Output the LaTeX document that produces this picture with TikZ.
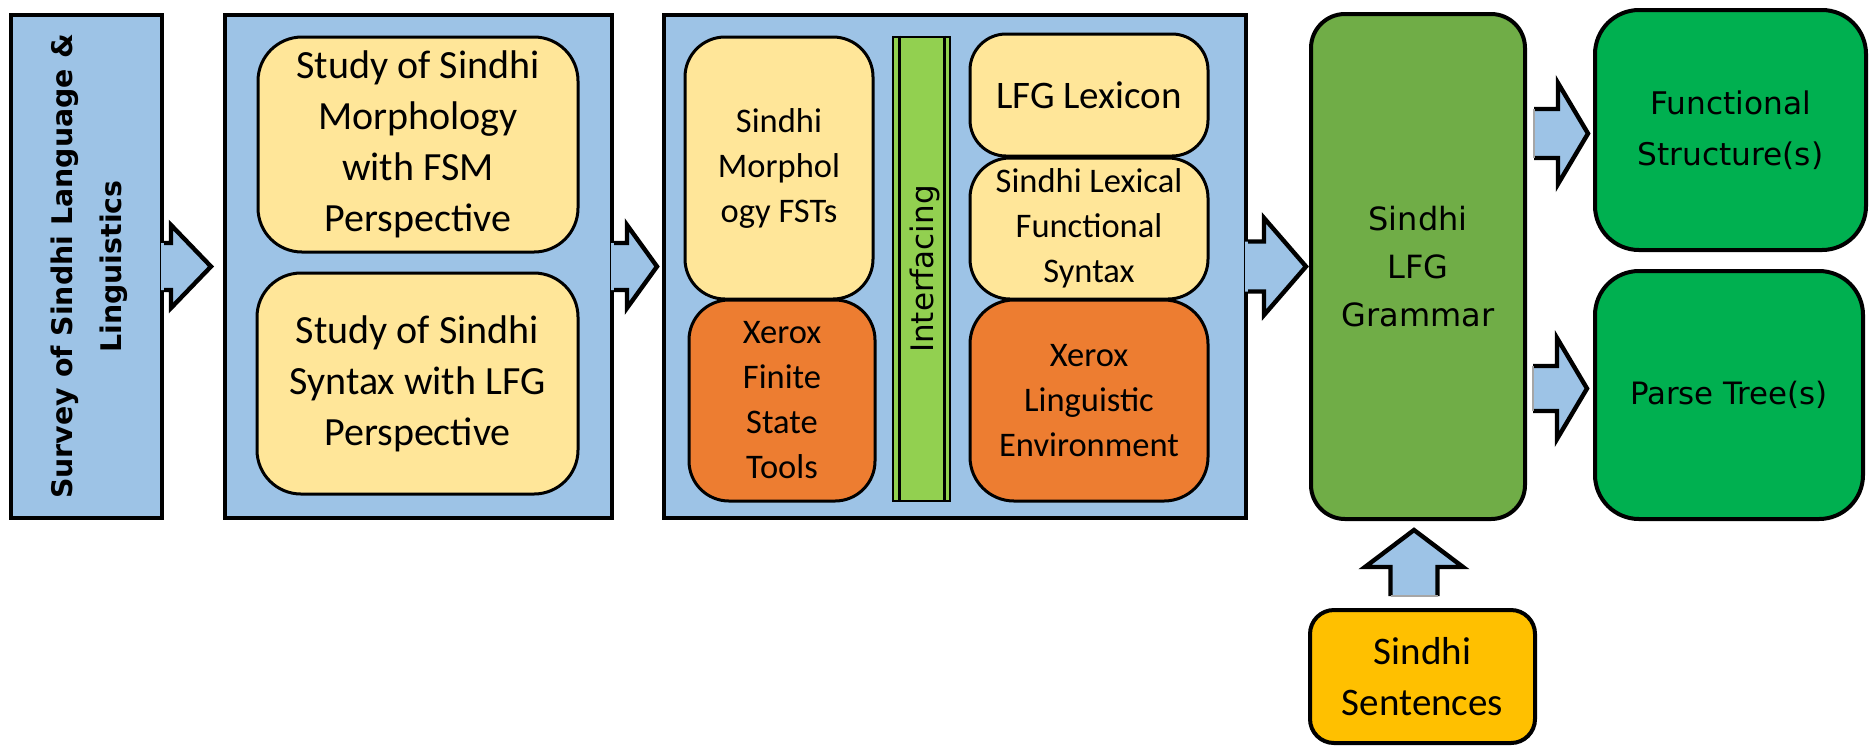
\documentclass[tikz,border=0pt]{standalone}
\usepackage{fontspec}
\setmainfont{Carlito}
\newfontfamily\verd{DejaVu Sans}
\usetikzlibrary{calc}

\definecolor{boxblue}{HTML}{9DC3E6}
\definecolor{paleyellow}{HTML}{FFE699}
\definecolor{toolorange}{HTML}{ED7D31}
\definecolor{limegreen}{HTML}{92D050}
\definecolor{grassgreen}{HTML}{70AD47}
\definecolor{deepgreen}{HTML}{00B050}
\definecolor{sentgold}{HTML}{FFC000}

\newcommand{\calibA}{\fontsize{20}{25.5}\selectfont}
\newcommand{\calibB}{\fontsize{17.25}{22.5}\selectfont}

\tikzset{
    panel/.style={draw, line width=2pt, fill=boxblue, inner sep=0pt},
    card/.style={draw, line width=1.5pt, rounded corners=#1, inner sep=0pt, align=center},
    card/.default=20pt,
    blockfill/.style={fill=boxblue},
    blockedge/.style={line width=2.2pt, line join=miter, draw=black},
}

% block arrow leaving a panel: tail, tip, head length, shaft half, head half
\newcommand{\rblock}[5]{%
    \fill[blockfill] ($(#1)+(-3,-#4)$) -| ($(#2)+(-#3,-#5)$) -- (#2) -- ($(#2)+(-#3,#5)$) |- ($(#1)+(-3,#4)$) -- cycle;
    \draw[blockedge] ($(#1)+(0,-#4)$) -| ($(#2)+(-#3,-#5)$) -- (#2) -- ($(#2)+(-#3,#5)$) |- ($(#1)+(0,#4)$);
}
% free standing block arrow
\newcommand{\rblockfree}[5]{%
    \fill[blockfill] ($(#1)+(0,-#4)$) -| ($(#2)+(-#3,-#5)$) -- (#2) -- ($(#2)+(-#3,#5)$) |- ($(#1)+(0,#4)$) -- cycle;
    \draw[blockedge] ($(#1)+(0,-#4)$) -| ($(#2)+(-#3,-#5)$) -- (#2) -- ($(#2)+(-#3,#5)$) |- ($(#1)+(0,#4)$);
    \draw[gray!70, line width=0.8pt] ($(#1)+(0,-#4)$) -- ($(#1)+(0,#4)$);
}

\begin{document}
\begin{tikzpicture}[x=0.5pt, y=-0.5pt]
    \useasboundingbox (0,0) rectangle (1873,746);

    % survey
    \node[panel, minimum width=75.5pt, minimum height=251.5pt] (survey) at (86.5,266.5) {};
    \node[rotate=90, align=center, font=\verd\bfseries\fontsize{14.2}{24.5}\selectfont] (surveytxt) at ($(survey.center)+(3,0)$) {Survey of Sindhi Language \&\\Linguistics};

    % studies
    \node[panel, minimum width=193.5pt, minimum height=251.5pt] (study) at (418.5,266.5) {};
    \node[card=22pt, fill=paleyellow, minimum width=160pt, minimum height=107.5pt, font=\calibA] (morphstudy) at (418,144.5) {Study of Sindhi\\Morphology\\with FSM\\Perspective};
    \node[card=22pt, fill=paleyellow, minimum width=160.5pt, minimum height=110.5pt, font=\calibA] (syntaxstudy) at (417.5,383.5) {Study of Sindhi\\Syntax with LFG\\Perspective};

    % tools
    \node[panel, minimum width=291pt, minimum height=251.5pt] (tools) at (955,266.5) {};
    \node[card, fill=paleyellow, minimum width=94pt, minimum height=131pt, font=\calibB] (morphfst) at (779,168) {Sindhi\\Morphol\\ogy FSTs};
    \node[card, fill=toolorange, minimum width=93pt, minimum height=100.5pt, font=\calibB] (xfst) at (782,400.5) {Xerox\\Finite\\State\\Tools};
    \node[draw, line width=1.4pt, fill=limegreen, minimum width=28.5pt, minimum height=232pt, inner sep=0pt] (iface) at (921.5,269) {};
    \draw[line width=1.4pt] ($(iface.north west)+(8,0)$) -- ($(iface.south west)+(8,0)$);
    \draw[line width=1.4pt] ($(iface.north east)+(-7,0)$) -- ($(iface.south east)+(-7,0)$);
    \node[rotate=90, font=\verd\fontsize{15.5}{18}\selectfont] (ifacetxt) at ($(iface.center)+(3,0)$) {Interfacing};
    \node[card=18pt, fill=paleyellow, minimum width=119pt, minimum height=61pt, font=\fontsize{19.5}{24}\selectfont] (lexicon) at (1089,95) {LFG Lexicon};
    \node[card, fill=paleyellow, minimum width=119pt, minimum height=70.5pt, font=\calibB] (lfsyntax) at (1089,228.5) {Sindhi Lexical\\Functional\\Syntax};
    \node[card=22pt, fill=toolorange, minimum width=119pt, minimum height=100.5pt, font=\calibB] (xle) at (1089,400.5) {Xerox\\Linguistic\\Environment};

    % grammar and results
    \node[card=17pt, line width=2pt, fill=grassgreen, minimum width=107pt, minimum height=252.5pt, font=\verd\fontsize{16}{24}\selectfont] (grammar) at (1418,266.5) {Sindhi\\LFG\\Grammar};
    \node[card=22pt, line width=2pt, fill=deepgreen, minimum width=135.5pt, minimum height=120pt, font=\verd\fontsize{15.6}{25.5}\selectfont] (fstruct) at (1730.5,130) {Functional\\Structure(s)};
    \node[card=22pt, line width=2pt, fill=deepgreen, minimum width=134pt, minimum height=124pt, font=\verd\fontsize{15.4}{25.5}\selectfont] (ptree) at (1729,395) {Parse Tree(s)};
    \node[card=12pt, line width=2pt, fill=sentgold, minimum width=112.5pt, minimum height=66.5pt, font=\fontsize{19.5}{25.5}\selectfont] (sentences) at (1422.5,676.5) {Sindhi\\Sentences};

    % block arrows
    \coordinate (tipA) at ($(study.west)+(-12,0)$);
    \coordinate (tailA) at (survey.east |- tipA);
    \rblock{tailA}{tipA}{40}{23.5}{41.5}
    \coordinate (tipB) at ($(tools.west)+(-5,0)$);
    \coordinate (tailB) at (study.east |- tipB);
    \rblock{tailB}{tipB}{30}{23.5}{41.5}
    \coordinate (tipC) at ($(grammar.west)+(-3,0)$);
    \coordinate (tailC) at (tools.east |- tipC);
    \rblock{tailC}{tipC}{42}{25}{48.5}
    \coordinate (tipD) at ($(fstruct.west)+(-5,3.5)$);
    \coordinate (tailD) at ($(grammar.east |- tipD)+(7,0)$);
    \rblockfree{tailD}{tipD}{30}{24.5}{50.5}
    \coordinate (tipF) at ($(ptree.west)+(-6,-6.5)$);
    \coordinate (tailF) at ($(grammar.east |- tipF)+(6,0)$);
    \rblockfree{tailF}{tipF}{30}{22.5}{50.5}

    % sentences up to grammar
    \coordinate (tipE) at ($(grammar.south)+(-4,9)$);
    \coordinate (tailE) at ($(tipE |- sentences.north)+(0,-12)$);
    \fill[blockfill] ($(tailE)+(-23.5,0)$) |- ($(tipE)+(-49,37)$) -- (tipE) -- ($(tipE)+(49,37)$) -| ($(tailE)+(23.5,0)$) -- cycle;
    \draw[blockedge] ($(tailE)+(-23.5,0)$) |- ($(tipE)+(-49,37)$) -- (tipE) -- ($(tipE)+(49,37)$) -| ($(tailE)+(23.5,0)$);
    \draw[gray!70, line width=0.8pt] ($(tailE)+(-23.5,0)$) -- ($(tailE)+(23.5,0)$);
\end{tikzpicture}
\end{document}
